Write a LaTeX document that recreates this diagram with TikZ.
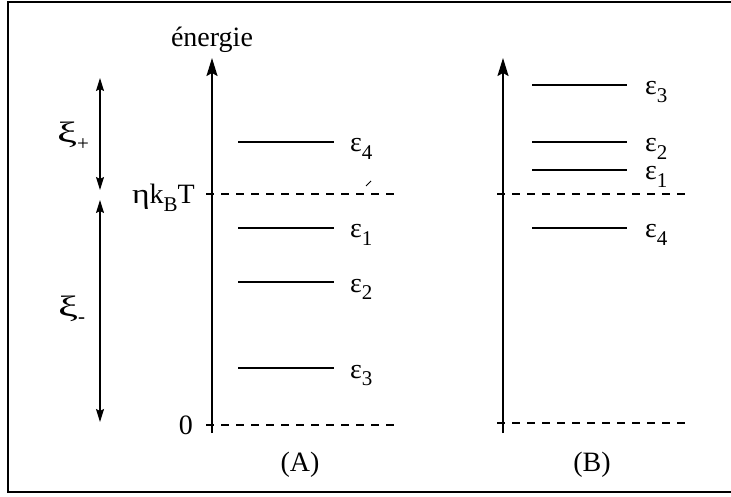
\documentclass[tikz,border=0pt]{standalone}
\usepackage{fontspec}
\setmainfont{Liberation Serif}
\usetikzlibrary{arrows.meta}
\newcommand\sbx[1]{\raisebox{-0.28em}{\fontsize{21}{21}\selectfont #1}}
\newcommand\wxi{\scalebox{1.6}[1.05]{ξ}}
\begin{document}
\begin{tikzpicture}[x=1pt,y=-1pt,
  lbl/.style={font=\fontsize{28}{32}\selectfont, inner sep=0pt},
  lvl/.style={line width=1.4pt},
  dsh/.style={line width=1.4pt, dash pattern=on 8pt off 7pt},
  axisarrow/.style={line width=1.8pt, -{Stealth[length=18pt,width=11pt,inset=3pt]}},
  dbl/.style={line width=1.3pt, {Stealth[length=13pt,width=8pt,inset=2pt]}-{Stealth[length=13pt,width=8pt,inset=2pt]}}]
\useasboundingbox (0,0) rectangle (731,497);
% frame (open on the right)
\coordinate (f1) at (735,2);
\coordinate (f2) at (8,2);
\coordinate (f3) at (8,492);
\coordinate (f4) at (735,492);
\draw[line width=1.6pt] (f1) -- (f2) -- (f3) -- (f4);

% ---------- panel A ----------
\coordinate (a0) at (212,433);
\coordinate (a1) at (212,58);
\draw[axisarrow] (a0) -- (a1);
\node[lbl, anchor=base] (en) at (212,47) {énergie};

\coordinate (aT1) at (206,194); \coordinate (aT2) at (397,194);
\draw[dsh] (aT1) -- (aT2);
\coordinate (aZ1) at (206,425); \coordinate (aZ2) at (397,425);
\draw[dsh] (aZ1) -- (aZ2);
\node[lbl, anchor=base east] (eta) at (195,204) {\scalebox{1.2}[1]{η}k\sbx{B}T};
\node[lbl, anchor=east] (zero) at (193,425) {0};

\coordinate (tk1) at (366,186); \coordinate (tk2) at (371,181);
\draw[line width=0.8pt] (tk1) -- (tk2);

\foreach \y/\n/\s in {142/a4/4, 228/a1l/1, 282/a2/2, 368/a3/3}{
  \coordinate (\n s) at (238,\y);
  \coordinate (\n e) at (334,\y);
  \draw[lvl] (\n s) -- (\n e);
  \node[lbl, anchor=base west] (\n lab) at (350,\y+10) {ε\sbx{\s}};
}

% xi arrows
\coordinate (xp1) at (100,78); \coordinate (xp2) at (100,190);
\draw[dbl] (xp1) -- (xp2);
\coordinate (xm1) at (100,200); \coordinate (xm2) at (100,422);
\draw[dbl] (xm1) -- (xm2);
\node[lbl, anchor=base west] (xip) at (57,143) {\wxi\sbx{+}};
\node[lbl, anchor=base west] (xim) at (58,316) {\wxi\sbx{-}};

\node[lbl] (labA) at (300,465) {(A)};

% ---------- panel B ----------
\coordinate (b0) at (503,433);
\coordinate (b1) at (503,58);
\draw[axisarrow] (b0) -- (b1);
\coordinate (bT1) at (497,194); \coordinate (bT2) at (690,194);
\draw[dsh] (bT1) -- (bT2);
\coordinate (bZ1) at (497,423); \coordinate (bZ2) at (690,423);
\draw[dsh] (bZ1) -- (bZ2);

\foreach \y/\n/\s in {85/b3/3, 142/b2/2, 170/b1l/1, 228/b4/4}{
  \coordinate (\n s) at (532,\y);
  \coordinate (\n e) at (627,\y);
  \draw[lvl] (\n s) -- (\n e);
  \node[lbl, anchor=base west] (\n lab) at (645,\y+10) {ε\sbx{\s}};
}

\node[lbl] (labB) at (592,465) {(B)};
\end{tikzpicture}
\end{document}
